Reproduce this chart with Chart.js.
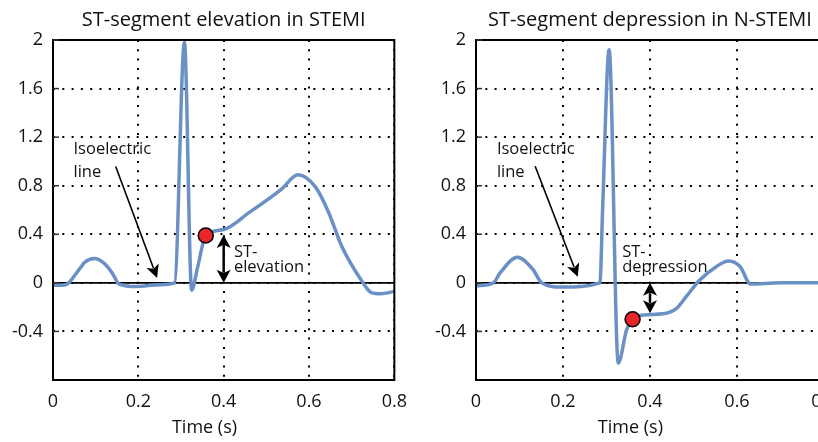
<!DOCTYPE html>
<html>
<head>
<meta charset="utf-8">
<script src="https://cdn.jsdelivr.net/npm/chart.js@4"></script>
<style>
  html, body { margin: 0; padding: 0; background: #fff; }
  #wrap { position: relative; width: 818px; height: 442px; overflow: hidden; background: #fff; }
  canvas { position: absolute; top: 0; }
  #stemi { left: 0; }
  #nstemi { left: 410px; }
</style>
</head>
<body>
<div id="wrap">
  <canvas id="stemi" width="418" height="442"></canvas>
  <canvas id="nstemi" width="440" height="442"></canvas>
</div>
<script>
// ECG traces (time in seconds, amplitude in mV)
const stemiTime = [0, 0.03, 0.055, 0.075, 0.097, 0.12, 0.139, 0.155, 0.196, 0.25, 0.285, 0.308, 0.325, 0.339, 0.358, 0.40, 0.46, 0.535, 0.574, 0.615, 0.646, 0.677, 0.723, 0.746, 0.769, 0.80];
const stemiMv   = [-0.02, -0.015, 0.08, 0.17, 0.20, 0.16, 0.08, -0.01, -0.03, -0.015, 0.0, 1.98, -0.06, 0.13, 0.39, 0.44, 0.58, 0.77, 0.89, 0.79, 0.58, 0.30, 0.02, -0.08, -0.09, -0.07];

const nstemiTime = [0, 0.04, 0.055, 0.095, 0.131, 0.151, 0.197, 0.285, 0.291, 0.306, 0.327, 0.346, 0.36, 0.385, 0.43, 0.461, 0.484, 0.515, 0.553, 0.58, 0.607, 0.631, 0.70, 0.80];
const nstemiMv   = [-0.025, 0.0, 0.08, 0.21, 0.11, 0.0, -0.035, 0.0, 0.60, 1.92, -0.66, -0.39, -0.30, -0.265, -0.255, -0.21, -0.11, 0.025, 0.135, 0.18, 0.135, -0.01, 0.0, 0.0];

// J-point markers
const stemiJPoint  = { t: 0.358, mv: 0.39 };
const nstemiJPoint = { t: 0.36,  mv: -0.30 };

// Axis ticks
const xTicks = [0, 0.2, 0.4, 0.6, 0.8];
const xTickLabels = ['0', '0.2', '0.4', '0.6', '0.8'];
const yTicks = [-0.4, 0, 0.4, 0.8, 1.2, 1.6, 2];
const yTickLabels = ['-0.4', '0', '0.4', '0.8', '1.2', '1.6', '2'];

const FONT = '"Open Sans", "Noto Sans", sans-serif';
const LINE_BLUE = '#6a90c6';

// Titles, axis label, annotations, frame and zero line
const decorPlugin = {
  id: 'decor',
  beforeDatasetsDraw(chart) {
    const { ctx, chartArea: a, scales: { y } } = chart;
    const y0 = y.getPixelForValue(0);
    ctx.save();
    ctx.strokeStyle = '#000';
    ctx.lineWidth = 1.6;
    ctx.beginPath();
    ctx.moveTo(a.left, y0);
    ctx.lineTo(a.right, y0);
    ctx.stroke();
    ctx.restore();
  },
  afterDatasetsDraw(chart, args, opts) {
    const { ctx, chartArea: a, scales: { x, y } } = chart;
    ctx.save();
    // frame
    ctx.strokeStyle = '#000';
    ctx.lineWidth = 2;
    ctx.strokeRect(a.left, a.top, a.right - a.left, a.bottom - a.top);
    // inward tick marks on the left axis
    ctx.lineWidth = 1.5;
    ctx.strokeStyle = '#333';
    yTicks.forEach(v => {
      const py = y.getPixelForValue(v);
      ctx.beginPath();
      ctx.moveTo(a.left, py);
      ctx.lineTo(a.left + 6, py);
      ctx.stroke();
    });

    // title
    ctx.fillStyle = '#111';
    ctx.textAlign = 'center';
    ctx.textBaseline = 'alphabetic';
    ctx.font = '20px ' + FONT;
    ctx.fillText(opts.title, (a.left + a.right) / 2, 26);
    // x axis title
    ctx.font = '18px ' + FONT;
    ctx.fillText('Time (s)', x.getPixelForValue(opts.xTitleAt), 433);

    // text notes
    ctx.textAlign = 'left';
    ctx.textBaseline = 'middle';
    ctx.font = '16.5px ' + FONT;
    opts.notes.forEach(n => {
      n.lines.forEach((ln, i) => {
        ctx.fillText(ln, x.getPixelForValue(n.t), y.getPixelForValue(n.mv) + i * 23 * (n.gap || 1));
      });
    });

    // arrows
    opts.arrows.forEach(ar => {
      const x1 = x.getPixelForValue(ar.from[0]), y1 = y.getPixelForValue(ar.from[1]);
      const x2 = x.getPixelForValue(ar.to[0]), y2 = y.getPixelForValue(ar.to[1]);
      const ang = Math.atan2(y2 - y1, x2 - x1);
      const hl = ar.head, hw = ar.headW / 2;
      ctx.strokeStyle = '#000';
      ctx.fillStyle = '#000';
      ctx.lineWidth = ar.width;
      ctx.beginPath();
      ctx.moveTo(x1 + (ar.both ? Math.cos(ang) * hl * 0.8 : 0), y1 + (ar.both ? Math.sin(ang) * hl * 0.8 : 0));
      ctx.lineTo(x2 - Math.cos(ang) * hl * 0.8, y2 - Math.sin(ang) * hl * 0.8);
      ctx.stroke();
      const head = (tx, ty, a0) => {
        ctx.beginPath();
        ctx.moveTo(tx, ty);
        ctx.lineTo(tx - Math.cos(a0) * hl - Math.sin(a0) * hw, ty - Math.sin(a0) * hl + Math.cos(a0) * hw);
        ctx.lineTo(tx - Math.cos(a0) * hl * 0.75, ty - Math.sin(a0) * hl * 0.75);
        ctx.lineTo(tx - Math.cos(a0) * hl + Math.sin(a0) * hw, ty - Math.sin(a0) * hl - Math.cos(a0) * hw);
        ctx.closePath();
        ctx.fill();
      };
      head(x2, y2, ang);
      if (ar.both) head(x1, y1, ang + Math.PI);
    });
    ctx.restore();
  }
};

function makeChart(id, time, mv, jp, yAxisWidth, padRight, deco) {
  return new Chart(document.getElementById(id), {
    type: 'line',
    data: {
      datasets: [
        {
          data: jp ? [{ x: jp.t, y: jp.mv }] : [],
          showLine: false,
          pointRadius: 7.5,
          pointBackgroundColor: '#e8262a',
          pointBorderColor: '#000',
          pointBorderWidth: 1.5,
          order: 0
        },
        {
          data: time.map((t, i) => ({ x: t, y: mv[i] })),
          borderColor: LINE_BLUE,
          borderWidth: 3.5,
          pointRadius: 0,
          cubicInterpolationMode: 'monotone',
          borderJoinStyle: 'round',
          borderCapStyle: 'round',
          order: 1
        }
      ]
    },
    options: {
      responsive: false,
      animation: false,
      events: [],
      layout: { autoPadding: false, padding: { top: 40, right: padRight, left: 0, bottom: 0 } },
      plugins: { legend: { display: false }, tooltip: { enabled: false }, decor: deco },
      scales: {
        x: {
          type: 'linear',
          min: 0, max: 0.8,
          afterFit: s => { s.height = 62; },
          afterBuildTicks: s => { s.ticks = xTicks.map(v => ({ value: v })); },
          ticks: {
            padding: 11,
            color: '#111',
            font: { family: FONT, size: 18 },
            maxRotation: 0,
            autoSkip: false,
            callback: (v, i) => xTickLabels[i]
          },
          grid: { color: '#000', lineWidth: 2, drawTicks: false },
          border: { display: false, dash: [2, 7.3] }
        },
        y: {
          type: 'linear',
          min: -0.8, max: 2,
          afterFit: s => { s.width = yAxisWidth; },
          afterBuildTicks: s => { s.ticks = yTicks.map(v => ({ value: v })); },
          ticks: {
            padding: 10,
            color: '#111',
            font: { family: FONT, size: 18 },
            autoSkip: false,
            callback: (v, i) => yTickLabels[i]
          },
          grid: { color: '#000', lineWidth: 2, drawTicks: false },
          border: { display: false, dash: [2, 7.3] }
        }
      }
    },
    plugins: [decorPlugin]
  });
}

makeChart('stemi', stemiTime, stemiMv, stemiJPoint, 53, 18, {
  title: 'ST-segment elevation in STEMI',
  xTitleAt: 0.355,
  notes: [
    { lines: ['Isoelectric', 'line'], t: 0.048, mv: 1.096 },
    { lines: ['ST-', 'elevation'], t: 0.424, mv: 0.255, gap: 0.68 }
  ],
  arrows: [
    { from: [0.147, 0.958], to: [0.244, 0.04], width: 1.6, head: 13, headW: 13, both: false },
    { from: [0.4, 0.395], to: [0.4, 0.0], width: 2.5, head: 13, headW: 14, both: true }
  ]
});

makeChart('nstemi', nstemiTime, nstemiMv, nstemiJPoint, 66, 26, {
  title: 'ST-segment depression in N-STEMI',
  xTitleAt: 0.355,
  notes: [
    { lines: ['Isoelectric', 'line'], t: 0.048, mv: 1.096 },
    { lines: ['ST-', 'depression'], t: 0.336, mv: 0.255, gap: 0.68 }
  ],
  arrows: [
    { from: [0.136, 0.96], to: [0.234, 0.05], width: 1.6, head: 13, headW: 13, both: false },
    { from: [0.4, 0.0], to: [0.4, -0.25], width: 2.5, head: 13, headW: 14, both: true }
  ]
});
</script>
</body>
</html>
